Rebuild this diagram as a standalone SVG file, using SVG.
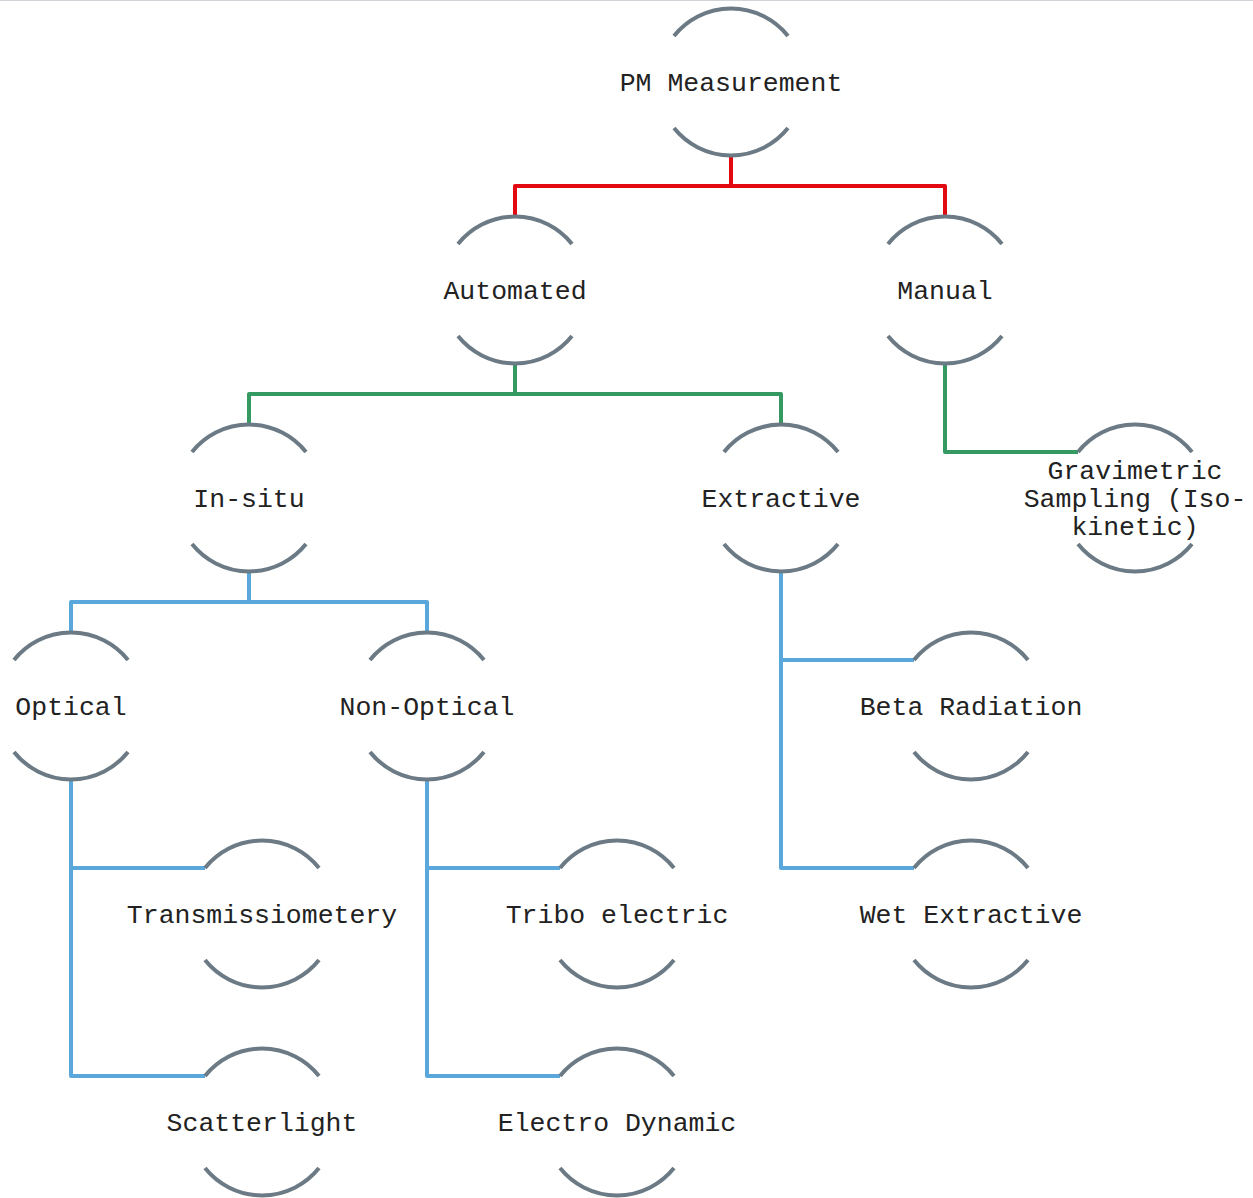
<svg xmlns="http://www.w3.org/2000/svg" width="1253" height="1198" viewBox="0 0 1253 1198">
<style>
.arc{fill:none;stroke:#6b7a84;stroke-width:4}
.lbl{font-family:"Liberation Mono","DejaVu Sans Mono",monospace;font-size:26.5px;fill:#222;text-anchor:middle}
.c{fill:none;stroke-width:4;stroke-linejoin:round}
.red{stroke:#e20a10}
.grn{stroke:#349a62}
.blu{stroke:#5aa8db}
</style>
<defs>
<path id="shape" class="arc" d="M-57,-46 A73,73 0 0 1 57,-46 M-57,46 A73,73 0 0 0 57,46"/>
</defs>
<rect width="1253" height="1198" fill="#fff"/>
<line x1="0" y1="0.5" x2="1253" y2="0.5" stroke="#d0d4d8" stroke-width="1"/>
<g id="connectors">
<path class="c red" d="M731,155 V186 M515,217 V186 H945 V217"/>
<path class="c grn" d="M515,363 V394 M249,425 V394 H781 V425"/>
<path class="c grn" d="M945,363 V452 H1078"/>
<path class="c blu" d="M249,571 V602 M71,633 V602 H427 V633"/>
<path class="c blu" d="M71,779 V1076 H205 M71,868 H205"/>
<path class="c blu" d="M427,779 V1076 H560 M427,868 H560"/>
<path class="c blu" d="M781,571 V868 H914 M781,660 H914"/>
</g>
<g id="n-pm" transform="translate(731,82)"><use href="#shape"/><text class="lbl" y="9">PM Measurement</text></g>
<g id="n-automated" transform="translate(515,290)"><use href="#shape"/><text class="lbl" y="9">Automated</text></g>
<g id="n-manual" transform="translate(945,290)"><use href="#shape"/><text class="lbl" y="9">Manual</text></g>
<g id="n-insitu" transform="translate(249,498)"><use href="#shape"/><text class="lbl" y="9">In-situ</text></g>
<g id="n-extractive" transform="translate(781,498)"><use href="#shape"/><text class="lbl" y="9">Extractive</text></g>
<g id="n-gravimetric" transform="translate(1135,498)"><use href="#shape"/><text class="lbl" y="-19">Gravimetric</text><text class="lbl" y="9">Sampling (Iso-</text><text class="lbl" y="37">kinetic)</text></g>
<g id="n-optical" transform="translate(71,706)"><use href="#shape"/><text class="lbl" y="9">Optical</text></g>
<g id="n-nonoptical" transform="translate(427,706)"><use href="#shape"/><text class="lbl" y="9">Non-Optical</text></g>
<g id="n-beta" transform="translate(971,706)"><use href="#shape"/><text class="lbl" y="9">Beta Radiation</text></g>
<g id="n-trans" transform="translate(262,914)"><use href="#shape"/><text class="lbl" y="9">Transmissiometery</text></g>
<g id="n-tribo" transform="translate(617,914)"><use href="#shape"/><text class="lbl" y="9">Tribo electric</text></g>
<g id="n-wet" transform="translate(971,914)"><use href="#shape"/><text class="lbl" y="9">Wet Extractive</text></g>
<g id="n-scatter" transform="translate(262,1122)"><use href="#shape"/><text class="lbl" y="9">Scatterlight</text></g>
<g id="n-electro" transform="translate(617,1122)"><use href="#shape"/><text class="lbl" y="9">Electro Dynamic</text></g>
</svg>
